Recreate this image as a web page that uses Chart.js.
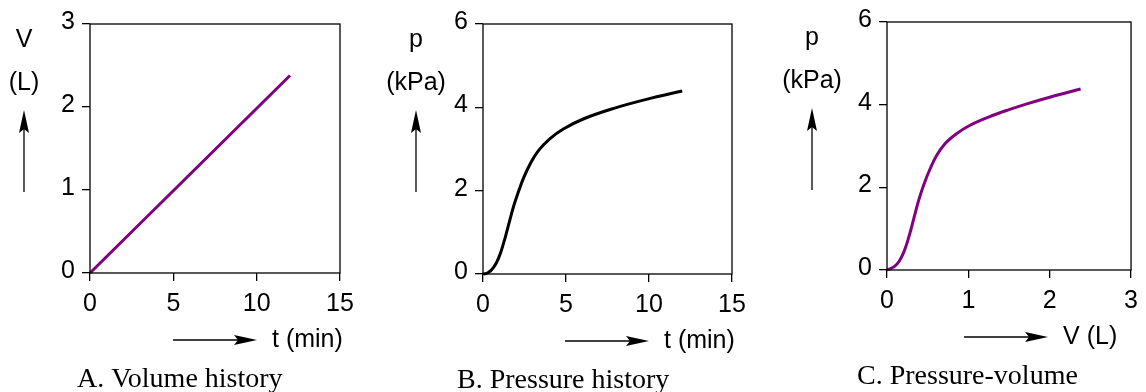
<!DOCTYPE html>
<html lang="en">
<head>
    <meta charset="UTF-8">
    <title>Volume, pressure and pressure-volume</title>
    <script src="https://cdn.jsdelivr.net/npm/chart.js@4.4.0/dist/chart.umd.min.js"></script>
    <style>
        body { margin: 0; background: #fff; }
        #wrap { position: relative; width: 1146px; height: 392px; }
        #wrap canvas { position: absolute; top: 0; }
    </style>
</head>
<body>
    <div id="wrap">
        <canvas id="chart-a" width="380" height="392" style="left:0"></canvas>
        <canvas id="chart-b" width="386" height="392" style="left:380px"></canvas>
        <canvas id="chart-c" width="380" height="392" style="left:766px"></canvas>
    </div>

    <script>
        // A. Volume history
        const volTime = [0, 12];
        const volValues = [0, 2.38];

        // B. Pressure history
        const presTime   = [0, 0.3, 0.64, 0.94, 1.24, 1.54, 1.84, 2.14, 2.44, 2.84, 3.34, 4.04, 4.84, 6.04, 7.84, 9.84, 12];
        const presValues = [0, 0.03, 0.16, 0.38, 0.74, 1.18, 1.62, 1.98, 2.30, 2.64, 2.96, 3.25, 3.48, 3.72, 3.97, 4.19, 4.39];

        // C. Pressure-volume
        const pvVolume   = [0, 0.05, 0.10, 0.15, 0.21, 0.27, 0.33, 0.39, 0.45, 0.53, 0.61, 0.71, 0.85, 1.01, 1.25, 1.5, 1.72, 2.0, 2.38];
        const pvPressure = [0, 0.04, 0.10, 0.21, 0.45, 0.81, 1.25, 1.69, 2.05, 2.45, 2.77, 3.05, 3.29, 3.49, 3.70, 3.88, 4.02, 4.18, 4.38];

        // tick labels
        const timeTicks = [0, 5, 10, 15];
        const volTicks = [0, 1, 2, 3];
        const presTicks = [0, 2, 4, 6];

        const SANS = '"Liberation Sans", Arial, Helvetica, sans-serif';
        const SERIF = '"Liberation Serif", "Times New Roman", serif';
        const PURPLE = '#800080';

        function arrow(ctx, x1, y1, x2, y2) {
            const a = Math.atan2(y2 - y1, x2 - x1);
            const len = Math.hypot(x2 - x1, y2 - y1);
            const L = 23, W = 5, N = 4;
            ctx.save();
            ctx.translate(x2, y2);
            ctx.rotate(a);
            ctx.lineWidth = 1.3;
            ctx.beginPath();
            ctx.moveTo(-len, 0);
            ctx.lineTo(-L + N, 0);
            ctx.stroke();
            ctx.beginPath();
            ctx.moveTo(0, 0);
            ctx.lineTo(-L, -W);
            ctx.lineTo(-L + N, 0);
            ctx.lineTo(-L, W);
            ctx.closePath();
            ctx.fill();
            ctx.restore();
        }

        // frame, axis titles with arrows and caption
        const panelDecor = {
            id: 'panelDecor',
            afterDraw(chart, args, o) {
                const { ctx, chartArea: { left, right, top, bottom } } = chart;
                ctx.save();
                ctx.strokeStyle = '#000';
                ctx.fillStyle = '#000';
                ctx.lineWidth = 1.3;
                ctx.strokeRect(left, top, right - left, bottom - top);

                ctx.font = '25px ' + SANS;
                ctx.textAlign = 'center';
                ctx.textBaseline = 'alphabetic';
                const yx = left + o.yTitleDx;
                ctx.fillText(o.yTitle[0], yx, top + 23);
                ctx.fillText(o.yTitle[1], yx, top + 65.5);
                arrow(ctx, yx, top + 168, yx, top + 86);

                const ay = bottom + 67;
                arrow(ctx, right - 167, ay, right - 83, ay);
                ctx.textAlign = 'left';
                ctx.fillText(o.xTitle, right - 68, bottom + 73.5);

                ctx.font = '28px ' + SERIF;
                ctx.fillText(o.caption, left + o.captionDx, bottom + 113.5);
                ctx.restore();
            }
        };

        function axis(min, max, tickList, fit) {
            return {
                type: 'linear',
                min: min,
                max: max,
                afterBuildTicks: s => { s.ticks = tickList.map(v => ({ value: v })); },
                afterFit: fit,
                grid: { display: true, drawOnChartArea: false, drawTicks: true, tickLength: 8, color: '#000', lineWidth: 1.3 },
                border: { display: false },
                ticks: { color: '#000', font: { family: SANS, size: 25 }, autoSkip: false, maxRotation: 0 }
            };
        }

        function makePanel(id, box, xs, ys, color, xAxis, yAxis, decor) {
            const canvas = document.getElementById(id);
            const x = axis(xAxis[0], xAxis[1], xAxis[2], s => { s.height = canvas.height - box.bottom; });
            x.ticks.padding = 8;
            const y = axis(yAxis[0], yAxis[1], yAxis[2], s => { s.width = box.left; });
            y.ticks.padding = 7;
            y.ticks.labelOffset = -2;
            return new Chart(canvas.getContext('2d'), {
                type: 'scatter',
                data: {
                    datasets: [{
                        data: xs.map((v, i) => ({ x: v, y: ys[i] })),
                        showLine: true,
                        borderColor: color,
                        borderWidth: 3,
                        pointRadius: 0,
                        tension: 0.4,
                        clip: false
                    }]
                },
                options: {
                    responsive: false,
                    animation: false,
                    layout: { padding: { left: 0, top: box.top, right: canvas.width - box.right, bottom: 0 } },
                    scales: { x: x, y: y },
                    plugins: {
                        legend: { display: false },
                        tooltip: { enabled: false },
                        panelDecor: decor
                    }
                },
                plugins: [panelDecor]
            });
        }

        makePanel('chart-a', { left: 90, right: 340, top: 24, bottom: 273 },
            volTime, volValues, PURPLE,
            [0, 15, timeTicks], [0, 3, volTicks],
            { yTitle: ['V', '(L)'], yTitleDx: -66, xTitle: 't (min)', caption: 'A. Volume history', captionDx: -13 });

        makePanel('chart-b', { left: 103, right: 352, top: 24, bottom: 274 },
            presTime, presValues, '#000',
            [0, 15, timeTicks], [0, 6, presTicks],
            { yTitle: ['p', '(kPa)'], yTitleDx: -67, xTitle: 't (min)', caption: 'B. Pressure history', captionDx: -26 });

        makePanel('chart-c', { left: 121, right: 370, top: 20, bottom: 270 },
            pvVolume, pvPressure, PURPLE,
            [0, 3, volTicks], [0, 6, presTicks],
            { yTitle: ['p', '(kPa)'], yTitleDx: -75, xTitle: 'V (L)', caption: 'C. Pressure-volume', captionDx: -30 });
    </script>
</body>
</html>
